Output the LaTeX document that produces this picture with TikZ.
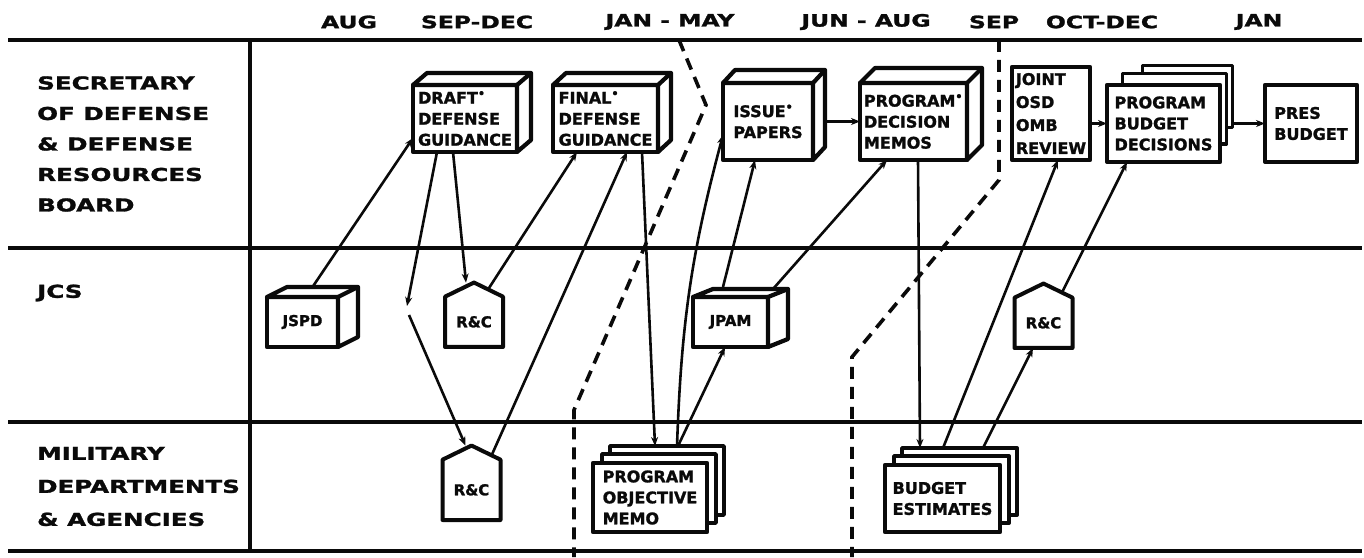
\documentclass[tikz,border=0pt]{standalone}
\usepackage{fontspec}
\setmainfont{DejaVu Sans}[BoldFeatures={FakeBold=1.5}]
\newfontfamily\widefont{DejaVu Sans}[FakeStretch=1.38, BoldFeatures={FakeBold=1.5}]
\usepackage{xcolor}
\definecolor{ink}{RGB}{10,10,10}
\usepackage{tikz}
\usetikzlibrary{arrows.meta,calc,shapes.symbols,shadows,backgrounds}
\newcommand{\markdot}{\textsuperscript{\textbullet}}
%% top and side faces of a solid box
\newcommand{\boxdepth}[3]{%
  \filldraw[faceline] (#1.north west) -- ++(#2,#3)
    -- ($(#1.north east)+(#2,#3)$) -- ($(#1.south east)+(#2,#3)$)
    -- (#1.south east) -- (#1.north east) -- cycle;
  \draw[faceline] (#1.north east) -- ++(#2,#3);}
\tikzset{
  %% frame of the chart
  gridline/.style={draw=ink, line width=3.4pt},
  cutline/.style={draw=ink, line width=3.6pt, dash pattern=on 12pt off 8pt},
  %% texts
  period/.style={font=\widefont\bfseries\fontsize{17}{20}\selectfont,
                 text=ink, inner sep=0pt},
  rowlabel/.style={anchor=west, align=left, inner sep=0pt, text=ink,
                   font=\widefont\bfseries\fontsize{17.8}{30.5}\selectfont},
  %% boxes
  docbox/.style={draw=ink, fill=white, line width=4.2pt, line join=round,
                 outer sep=0pt, inner sep=1pt, align=left, text=ink,
                 font=\bfseries\fontsize{16}{21}\selectfont},
  smallbox/.style={docbox, align=center,
                   font=\bfseries\fontsize{15}{15}\selectfont},
  faceline/.style={draw=ink, fill=white, line width=4.2pt, line join=round},
  pagestack/.style={docbox,
    copy shadow={shadow xshift=17pt, shadow yshift=17pt, draw=ink,
                 line width=3.8pt},
    copy shadow={shadow xshift=9pt, shadow yshift=9pt, draw=ink,
                 line width=3.8pt}},
  house/.style={shape=signal, signal to=north, signal pointer angle=128,
                draw=ink, fill=white, line width=4pt, line join=round,
                outer sep=0pt, inner sep=0pt, minimum width=58pt,
                minimum height=59pt, text=ink,
                font=\bfseries\fontsize{15}{15}\selectfont},
  flow/.style={draw=ink, line width=2.6pt, -{Stealth[length=9pt,width=7pt]}},
}
\begin{document}
\begin{tikzpicture}[x=1pt, y=1pt]
  \begin{scope}[on background layer]
    \fill[white] (0,0) rectangle (1364,557);
  \end{scope}
  \useasboundingbox (0,0) rectangle (1364,557);
  %% frame
  \draw[gridline] (8,517) -- (1362,517);
  \draw[gridline] (8,309) -- (1362,309);
  \draw[gridline] (8,135) -- (1362,135);
  \draw[gridline] (8,6)   -- (1362,6);
  \draw[gridline] (250,517) -- (250,6);
  %% periods
  \node[period] (tAug)   at (349,535)  {AUG};
  \node[period] (tSep)   at (477,535)  {SEP-DEC};
  \node[period] (tJan)   at (670,535)  {JAN - MAY};
  \node[period] (tJun)   at (866,535)  {JUN - AUG};
  \node[period] (tSep2)  at (994,535)  {SEP};
  \node[period] (tOct)   at (1102,535) {OCT-DEC};
  \node[period] (tJan2)  at (1259,535) {JAN};
  %% rows
  \node[rowlabel] (rSecdef) at (37,413)
    {SECRETARY\\OF DEFENSE\\\& DEFENSE\\RESOURCES\\BOARD};
  \node[rowlabel] (rJcs) at (37,264) {JCS};
  \node[rowlabel, font=\widefont\bfseries\fontsize{17.8}{33}\selectfont]
    (rMil) at (37,70.5) {MILITARY\\DEPARTMENTS\\\& AGENCIES};
  %% cycle boundaries
  \draw[cutline] (679,517) -- (706,452) -- (574,147) -- (574,0);
  \draw[cutline] (999,517) -- (999,377) -- (852,200) -- (852,0);
  %% secretary of defense
  \node[docbox, minimum width=104pt, minimum height=67pt] (dg)
    at (465,438.5) {DRAFT\markdot\\DEFENSE\\GUIDANCE};
  \boxdepth{dg}{14}{12}
  \node[docbox, minimum width=105pt, minimum height=67pt] (fg)
    at (605.5,438.5) {FINAL\markdot\\DEFENSE\\GUIDANCE};
  \boxdepth{fg}{13}{12}
  \node[docbox, minimum width=90pt, minimum height=77pt] (ip)
    at (768,435.5) {ISSUE\markdot\\PAPERS};
  \boxdepth{ip}{12}{13}
  \node[docbox, minimum width=107pt, minimum height=77pt] (pdm)
    at (913.5,435.5) {PROGRAM\markdot\\DECISION\\MEMOS};
  \boxdepth{pdm}{15}{15}
  \node[docbox, minimum width=78pt, minimum height=93pt,
        font=\bfseries\fontsize{16}{23}\selectfont] (jr)
    at (1051,443.5) {JOINT\\OSD\\OMB\\REVIEW};
  \node[docbox, minimum width=113pt, minimum height=77pt,
        copy shadow={shadow xshift=30pt, shadow yshift=34pt,
                     shadow scale=0.8, draw=ink, line width=3.8pt},
        copy shadow={shadow xshift=12pt, shadow yshift=16pt,
                     shadow scale=0.92, draw=ink, line width=3.8pt}] (pbd)
    at (1163.5,433.5) {PROGRAM\\BUDGET\\DECISIONS};
  \node[docbox, minimum width=92pt, minimum height=77pt] (pres)
    at (1311,433.5) {PRES\\BUDGET};
  %% jcs
  \node[smallbox, minimum width=71pt, minimum height=50pt] (jspd)
    at (302.5,235) {JSPD};
  \boxdepth{jspd}{20}{10}
  \node[house, anchor=south] (rcJcs) at (474,210) {R\&C};
  \coordinate (jcsUp)   at (407,251);
  \coordinate (jcsDown) at (409,242);
  \node[smallbox, minimum width=75pt, minimum height=50pt] (jpam)
    at (730.5,235) {JPAM};
  \boxdepth{jpam}{20}{8}
  \node[house, anchor=south] (rcCut) at (1043.5,209) {R\&C};
  %% military departments
  \node[house, anchor=south, minimum height=69pt] (rcMil)
    at (471.5,37) {R\&C};
  \node[pagestack, minimum width=114pt, minimum height=69pt] (pom)
    at (650,59.5) {PROGRAM\\OBJECTIVE\\MEMO};
  \node[pagestack, minimum width=115pt, minimum height=67pt] (be)
    at (942.5,58.5) {BUDGET\\ESTIMATES};
  %% flows
  \begin{scope}[on background layer]
    \draw[flow] ([xshift=10pt,yshift=10pt]jspd.north) -- ([yshift=-19.5pt]dg.west);
    \draw[flow] ([xshift=-28pt]dg.south) -- (jcsUp);
    \draw[flow] (jcsDown) -- ([xshift=-6pt]rcMil.north);
    \draw[flow] ([xshift=-12pt]dg.south) -- ([xshift=-8pt]rcJcs.north);
    \draw[flow] ([xshift=14pt,yshift=-7pt]rcJcs.north) -- ([xshift=-28.5pt]fg.south);
    \draw[flow] ([xshift=20pt,yshift=-10pt]rcMil.north) -- ([xshift=21.5pt]fg.south);
    \draw[flow] ([xshift=36.5pt]fg.south) -- ([xshift=5pt,yshift=17pt]pom.north);
    \draw[flow] ([xshift=27pt,yshift=17pt]pom.north)
      to[out=88,in=-105] ([yshift=-13.5pt]ip.west);
    \draw[flow] ([xshift=28pt,yshift=17pt]pom.north) -- ([xshift=-5.5pt]jpam.south);
    \draw[flow] ([xshift=-7.5pt,yshift=10pt]jpam.north) -- ([xshift=-13pt]ip.south);
    \draw[flow] ([xshift=42.5pt,yshift=8pt]jpam.north) -- ([xshift=-26.5pt]pdm.south);
    \draw[flow] (ip.east) -- (pdm.west);
    \draw[flow] ([xshift=4.5pt]pdm.south) -- ([xshift=-22.5pt,yshift=17pt]be.north);
    \draw[flow] ([xshift=0.5pt,yshift=17pt]be.north) -- ([xshift=7pt]jr.south);
    \draw[flow] ([xshift=40.5pt,yshift=17pt]be.north) -- ([xshift=-10.5pt]rcCut.south);
    \draw[flow] ([xshift=18.5pt,yshift=-9pt]rcCut.north) -- ([xshift=-36.5pt]pbd.south);
    \draw[flow] (jr.east |- pbd.west) -- (pbd.west);
    \draw[flow] (pbd.east) -- (pres.west);
  \end{scope}
\end{tikzpicture}
\end{document}
